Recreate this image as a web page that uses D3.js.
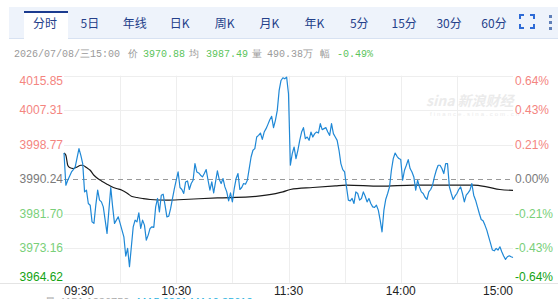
<!DOCTYPE html>
<html>
<head>
<meta charset="utf-8">
<script src="https://cdn.jsdelivr.net/npm/d3@7"></script>
<style>
  body { margin: 0; background: #fff; overflow: hidden; }
  svg { display: block; }
</style>
</head>
<body>
<div id="chart"></div>
<script>
// onglets
const tabs = ["分时", "5日", "年线", "日K", "周K", "月K", "年K", "5分", "15分", "30分", "60分"];

// ligne d'info
const infoDate = "2026/07/08/三15:00";
const infoLabels = ["价", "均", "量", "幅"];
const infoValues = ["3970.88", "3987.49", "490.38万", "-0.49%"];

// axes
const prevClose = 3990.24;
const yTicks = [4015.85, 4007.31, 3998.77, 3990.24, 3981.70, 3973.16, 3964.62];
const pctTicks = ["0.64%", "0.43%", "0.21%", "0.00%", "-0.21%", "-0.43%", "-0.64%"];
const timeTicks = [0, 60, 120, 180, 240];
const timeLabels = ["09:30", "10:30", "11:30", "14:00", "15:00"];

// prix (minutes depuis 09:30, pause midi retirée)
const priceMin = [0,1,2,4,5,6,8,9,10,11,12,13,14,15,16,17,18,19,20,21,22,23,24,25,26,27,28,29,30,31,32,33,34,35,36,37,38,39,40,
  41,42,43,44,45,46,47,48,49,50,51,52,53,54,55,56,57,58,59,60,61,62,63,64,65,66,67,68,69,70,71,72,73,74,75,76,77,78,79,80,
  81,82,83,84,85,86,87,88,89,90,91,92,93,94,95,96,97,98,99,100,101,102,103,104,105,106,107,108,109,110,111,112,113,114,115,116,117,118,119,120,
  121,122,123,124,125,126,127,128,129,130,131,132,133,134,135,136,137,138,139,140,141,142,143,144,145,146,147,148,149,150,
  151,152,153,154,155,156,157,158,159,160,161,162,163,164,165,166,167,168,169,170,171,172,173,174,175,176,177,178,179,180,
  181,182,183,184,185,186,187,188,189,190,191,192,193,194,195,196,197,198,199,200,201,202,203,204,205,206,207,208,209,210,
  211,212,213,214,215,216,217,218,219,220,221,222,223,224,225,226,227,228,229,230,231,232,233,234,235,236,237,238,239,240];
const priceVal = [3996.73,3988.76,3989.99,3992.04,3992.63,3993.28,3997.82,3996.16,3994.11,3987.11,3987.53,3984.24,3983.82,3979.70,3979.31,
  3983.82,3987.53,3985.06,3984.64,3983.40,3980.12,3976.84,3982.59,3988.19,3983.40,3979.31,3980.12,3980.94,3979.31,3977.65,3976.00,
  3971.24,3973.14,3968.60,3973.53,3978.47,3980.12,3979.70,3981.92,3978.07,3980.12,3978.89,3975.19,3976.42,3978.07,3978.47,3978.32,
  3983.40,3985.48,3982.17,3986.29,3986.54,3983.82,3980.94,3981.11,3983.01,3985.48,3987.94,3989.99,3992.04,3988.19,3987.70,3986.71,
  3989.57,3989.82,3987.70,3989.18,3989.99,3994.11,3992.04,3991.79,3991.23,3990.81,3991.65,3992.63,3989.99,3987.53,3989.57,3986.86,
  3989.57,3992.29,3990.17,3989.18,3990.41,3988.34,3987.11,3984.88,3986.86,3984.64,3987.94,3990.41,3991.65,3987.70,3988.19,3989.18,
  3989.01,3989.99,3992.88,3995.74,3997.40,3997.82,4000.68,4001.10,4001.67,4000.11,4001.91,4002.75,4003.81,4004.97,4005.79,4002.99,
  4004.80,4007.27,4012.20,4014.67,4015.34,4015.09,4015.49,4011.39,
  3993.70,3996.58,3998.21,3995.35,3997.40,3999.86,4001.91,4003.00,4000.28,4000.68,3999.87,4001.91,4000.68,4001.52,4001.91,4001.67,
  4003.99,4002.51,4002.75,4003.00,4001.91,4001.10,4003.99,4001.52,4000.68,3999.86,3997.40,3994.11,3992.63,3992.04,
  3988.34,3985.06,3984.88,3985.48,3984.24,3987.11,3986.71,3985.06,3985.48,3987.11,3986.04,3984.64,3985.48,3984.24,3983.40,3983.26,
  3983.82,3982.59,3980.12,3977.23,3982.59,3985.30,3986.71,3988.34,3992.46,3995.35,3996.73,3995.92,3995.35,3995.10,
  3989.99,3992.46,3993.70,3995.10,3992.88,3992.04,3990.81,3987.53,3989.99,3988.34,3987.11,3986.71,3985.78,3985.23,3987.11,3987.70,
  3988.76,3990.81,3992.46,3993.70,3993.70,3992.88,3991.65,3994.11,3994.11,3988.34,3986.71,3985.23,3986.04,3986.71,
  3987.70,3988.34,3986.71,3984.64,3986.29,3986.86,3987.53,3989.18,3986.29,3985.06,3983.40,3981.77,3980.29,3979.95,3978.89,3977.65,
  3976.00,3974.37,3972.72,3972.54,3973.14,3972.72,3973.53,3972.30,3971.24,3970.42,3971.06,3971.31,3971.06,3970.88];

// prix moyen
const avgMin = [0,1,2,3,5,7,9,10,12,14,16,18,20,23,25,28,31,34,36,39,42,46,55,64,82,99,108,117,121,133,145,151,169,187,205,219,226,233,240];
const avgVal = [3996.73,3996.16,3993.70,3993.13,3992.88,3993.28,3993.70,3993.70,3993.13,3992.46,3991.23,3990.41,3989.82,3989.01,3988.51,
  3987.94,3987.53,3986.71,3986.04,3985.72,3985.48,3985.23,3985.06,3985.23,3985.63,3985.87,3986.29,3987.11,3987.70,3988.19,3988.59,
  3988.76,3988.51,3988.76,3988.76,3988.76,3988.34,3987.70,3987.49];

const width = 558;
const height = 299;
const plotLeft = 64, plotRight = 513, plotTop = 75.7, plotBottom = 282.8;

const svg = d3.select("#chart").append("svg")
  .attr("width", width)
  .attr("height", height)
  .style("font-family", "Arial, 'Liberation Sans', sans-serif");

//Barre des onglets
svg.append("rect").attr("x", 9).attr("y", 7).attr("width", width - 9).attr("height", 31).attr("fill", "#eef3fb");
svg.append("line").attr("x1", 9).attr("x2", width).attr("y1", 38.5).attr("y2", 38.5).attr("stroke", "#d8e2f2");
svg.append("rect").attr("x", 24).attr("y", 11).attr("width", 44).attr("height", 28).attr("fill", "#fff");
svg.append("rect").attr("x", 24).attr("y", 11).attr("width", 44).attr("height", 2).attr("fill", "#1b3b8f");

const tabScale = d3.scalePoint().domain(tabs).range([45, 494]);
svg.append("g").selectAll("text").data(tabs).join("text")
  .attr("x", (d) => tabScale(d))
  .attr("y", 28)
  .attr("text-anchor", "middle")
  .style("font-family", "'Noto Sans CJK SC', sans-serif")
  .style("font-size", "12px")
  .attr("fill", "#24408a")
  .text((d) => d);

// icône plein écran
const icon = svg.append("g").attr("fill", "none").attr("stroke", "#2e6bd6").attr("stroke-width", 2);
icon.append("path").attr("d", "M520,19 V15 H524 M530,15 H534 V19 M534,24 V28 H530 M524,28 H520 V24");
svg.append("g").selectAll("rect").data([15, 21, 27]).join("rect")
  .attr("x", 549).attr("y", (d) => d).attr("width", 3).attr("height", 3).attr("fill", "#5f7fb8");

// ligne d'info
const info = svg.append("text").attr("y", 57).style("font-size", "10px")
  .style("font-family", "'Liberation Mono', 'DejaVu Sans Mono', monospace");
info.append("tspan").attr("x", 14).attr("fill", "#9a9a9a").text(infoDate);
const infoX = [[128, 143], [189, 206], [252, 267], [320, 337]];
infoLabels.forEach((lab, i) => {
  info.append("tspan").attr("x", infoX[i][0]).attr("fill", "#9a9a9a").text(lab);
  info.append("tspan").attr("x", infoX[i][1]).attr("fill", i === 2 ? "#9a9a9a" : "#5cc45c").text(infoValues[i]);
});

//Echelles
const x = d3.scaleLinear().domain([0, 240]).range([plotLeft, plotRight]);
const y = d3.scaleLinear().domain([yTicks[6], yTicks[0]]).range([plotBottom, plotTop]);

// grille
svg.append("g").selectAll("line").data(d3.range(30, 240, 30)).join("line")
  .attr("x1", (d) => Math.round(x(d)) + 0.5).attr("x2", (d) => Math.round(x(d)) + 0.5)
  .attr("y1", plotTop).attr("y2", plotBottom)
  .attr("stroke", "#eeeeee");
svg.append("g").selectAll("line").data(yTicks.filter((d, i) => i !== 3 && i !== 6)).join("line")
  .attr("x1", plotLeft).attr("x2", plotRight)
  .attr("y1", (d) => Math.round(y(d)) + 0.5).attr("y2", (d) => Math.round(y(d)) + 0.5)
  .attr("stroke", "#eeeeee");
svg.append("line").attr("x1", 0).attr("x2", width)
  .attr("y1", Math.round(plotBottom) + 0.5).attr("y2", Math.round(plotBottom) + 0.5)
  .attr("stroke", "#e4e4e4");
svg.append("line").attr("x1", plotLeft).attr("x2", plotRight)
  .attr("y1", Math.round(y(prevClose)) + 0.5).attr("y2", Math.round(y(prevClose)) + 0.5)
  .attr("stroke", "#999").attr("stroke-dasharray", "5,4");

// filigrane
svg.append("text").attr("x", 426).attr("y", 106)
  .style("font-size", "14px").style("font-style", "italic").style("font-weight", "bold")
  .style("font-family", "'Noto Sans CJK SC', sans-serif")
  .attr("fill", "#ebebeb").text("sina 新浪财经");
svg.append("text").attr("x", 430).attr("y", 116)
  .style("font-size", "6px").attr("fill", "#ebebeb").attr("letter-spacing", "2")
  .text("finance.sina.com.cn");

// couleurs des étiquettes
const labelColor = (i) => (i < 3 ? "#f4857f" : i === 3 ? "#7a7a7a" : i < 6 ? "#79cf79" : "#13a313");
const labelDy = (i) => (i === 0 ? 9.5 : i === 6 ? -2 : 4);

svg.append("g").selectAll("text").data(yTicks).join("text")
  .attr("x", 63)
  .attr("y", (d, i) => y(d) + labelDy(i))
  .attr("text-anchor", "end")
  .style("font-size", "12px")
  .attr("fill", (d, i) => labelColor(i))
  .text((d) => d.toFixed(2));

svg.append("g").selectAll("text").data(pctTicks).join("text")
  .attr("x", 515)
  .attr("y", (d, i) => y(yTicks[i]) + labelDy(i))
  .style("font-size", "12px")
  .attr("fill", (d, i) => labelColor(i))
  .text((d) => d);

// heures
svg.append("g").selectAll("text").data(timeTicks).join("text")
  .attr("x", (d) => x(d))
  .attr("y", 295)
  .attr("text-anchor", (d, i) => (i === 0 ? "start" : i === timeTicks.length - 1 ? "end" : "middle"))
  .style("font-size", "12px")
  .attr("fill", "#222")
  .text((d, i) => timeLabels[i]);

// ligne suivante, coupée par le bas de la page
svg.append("text").attr("x", 45).attr("y", 306).style("font-size", "11px").attr("fill", "#aaa")
  .text("量 4151 1236750");
svg.append("text").attr("x", 137).attr("y", 306).style("font-size", "11px").attr("fill", "#2bb3e0")
  .text("MA5 2361 MA10 35612");

//Courbes
const avgLine = d3.line().x((d) => x(d[0])).y((d) => y(d[1])).curve(d3.curveMonotoneX);
svg.append("path")
  .datum(avgMin.map((m, i) => [m, avgVal[i]]))
  .attr("d", avgLine)
  .attr("fill", "none")
  .attr("stroke", "#1a1a1a")
  .attr("stroke-width", 1.2);

const priceLine = d3.line().x((d) => x(d[0])).y((d) => y(d[1]));
svg.append("path")
  .datum(priceMin.map((m, i) => [m, priceVal[i]]))
  .attr("d", priceLine)
  .attr("fill", "none")
  .attr("stroke", "#1f88d6")
  .attr("stroke-width", 1.2)
  .attr("stroke-linejoin", "round");
</script>
</body>
</html>
